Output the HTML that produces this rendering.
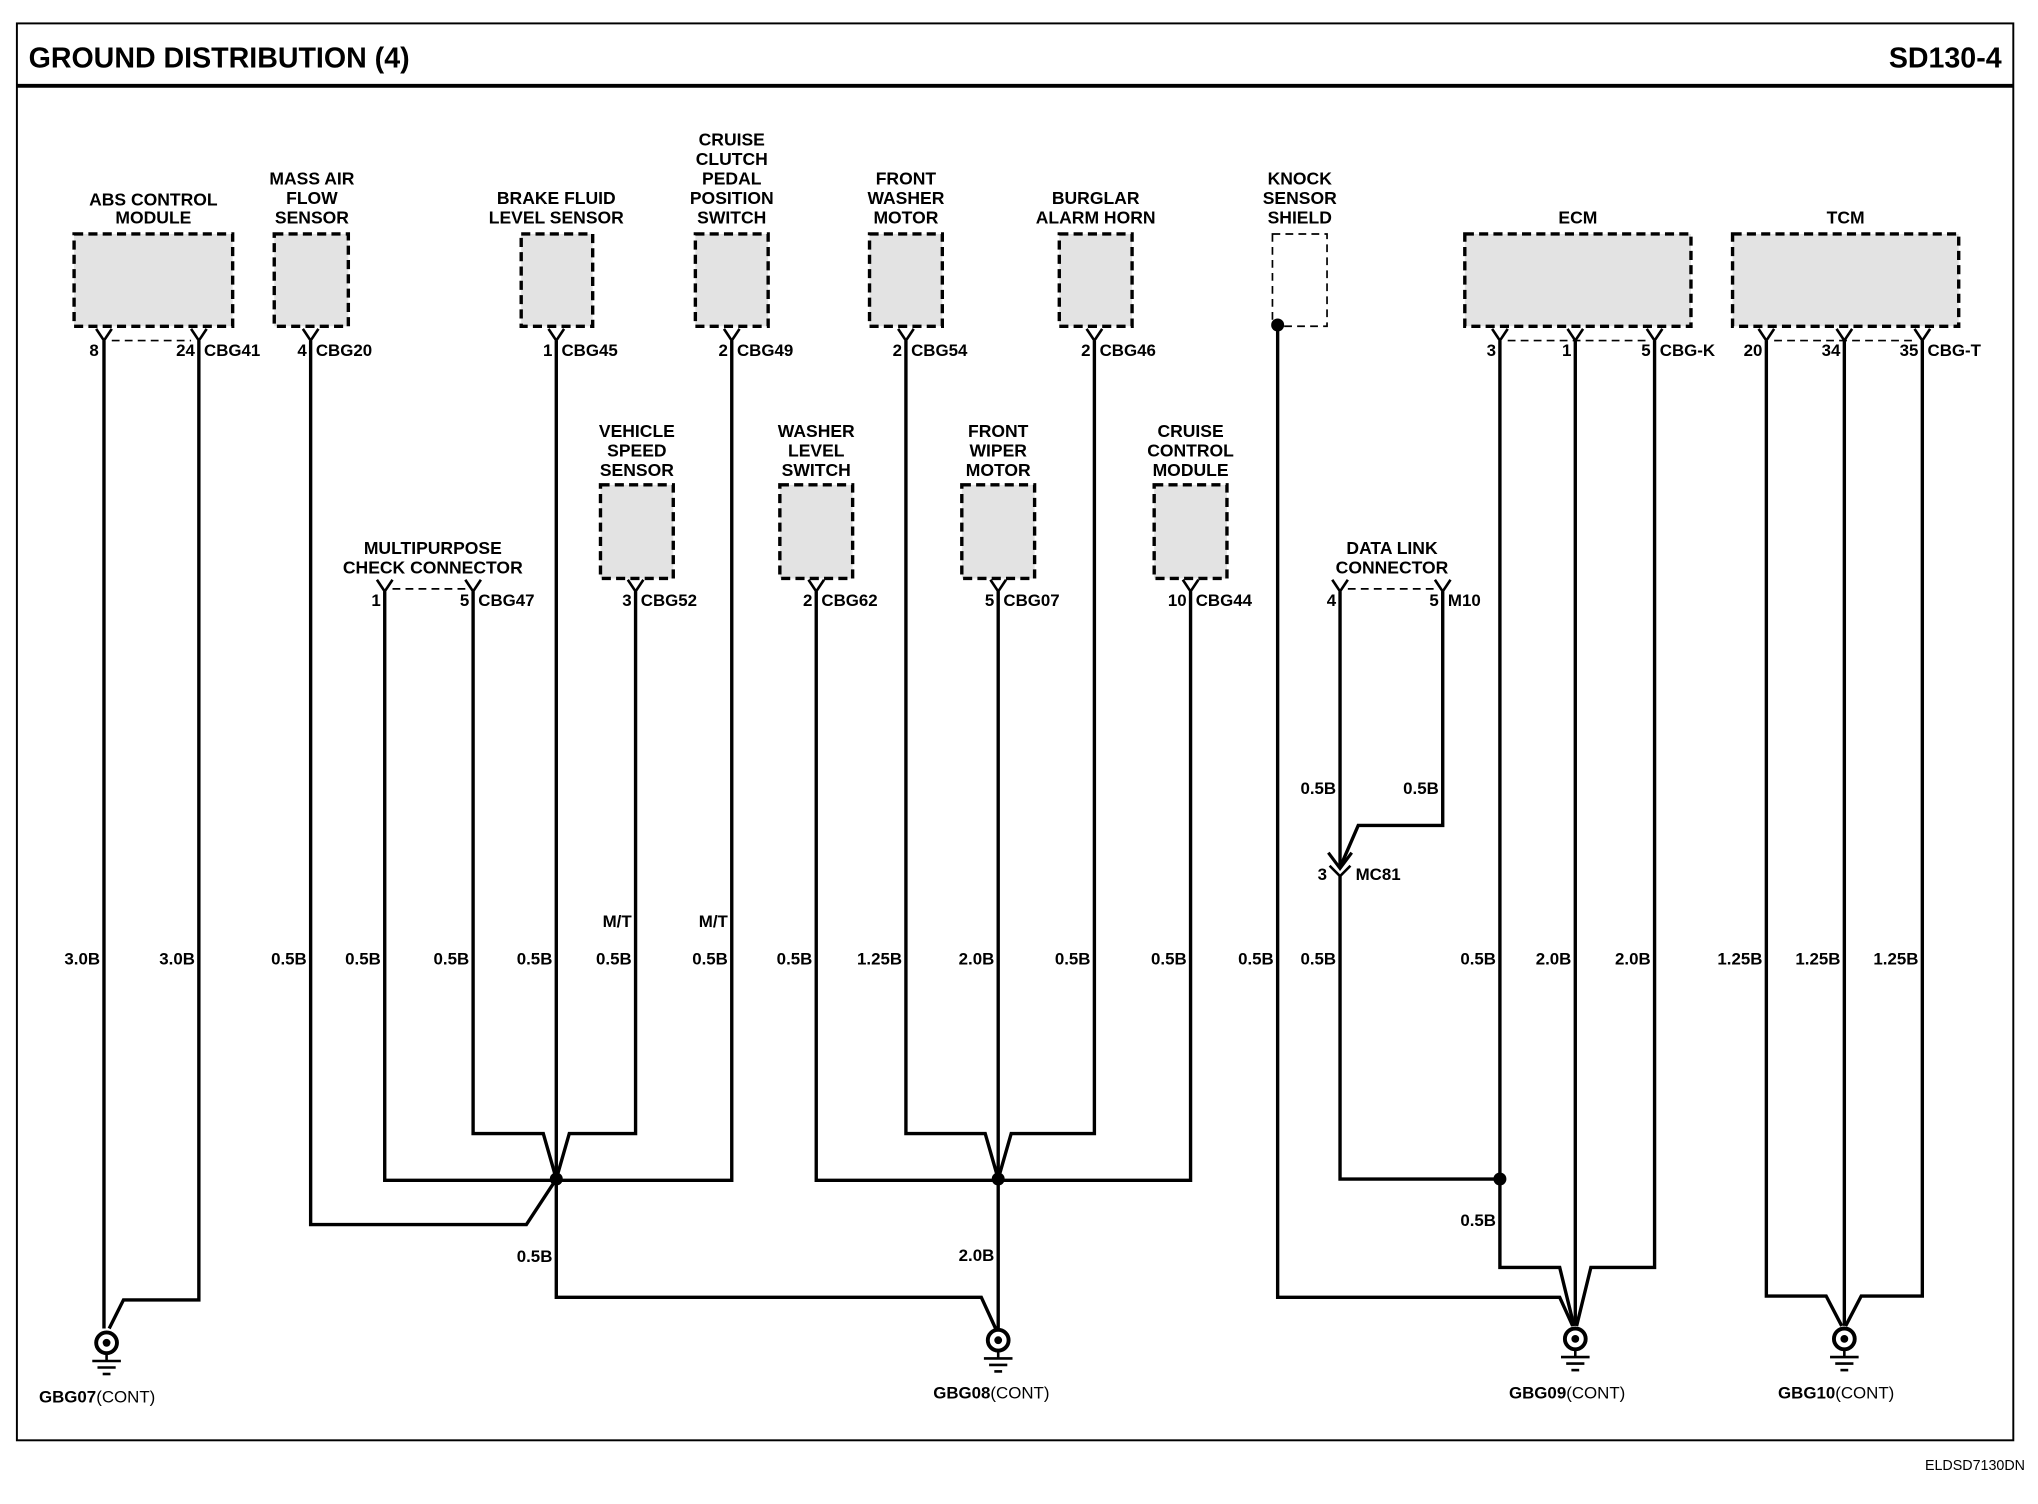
<!DOCTYPE html>
<html><head><meta charset="utf-8"><style>
html,body{margin:0;padding:0;background:#fff}
svg{display:block}
text{font-family:"Liberation Sans",Arial,sans-serif;font-weight:bold;fill:#000}
.l{font-size:13.5px;text-anchor:middle}
.p{font-size:13px}
.g{font-size:13px;font-weight:normal;text-anchor:end}
.w{fill:none;stroke:#000;stroke-width:2.6}
.b{fill:#e3e3e3;stroke:#000;stroke-width:2.6;stroke-dasharray:7,4}
.y{fill:none;stroke:#000;stroke-width:2}
</style></head><body>
<svg width="2038" height="1504" viewBox="0 0 1568 1157" preserveAspectRatio="none" xmlns="http://www.w3.org/2000/svg">
<rect x="13" y="18" width="1536" height="1090" fill="none" stroke="#000" stroke-width="1.5"/>
<line x1="13" y1="66" x2="1549" y2="66" stroke="#000" stroke-width="3"/>
<text x="22" y="52" style="font-size:22px">GROUND DISTRIBUTION (4)</text>
<text x="1540" y="52" style="font-size:22px;text-anchor:end">SD130-4</text>
<text x="1558" y="1131" style="font-size:11px;font-weight:normal;text-anchor:end">ELDSD7130DN</text>

<rect class="b" x="57" y="180" width="122" height="71"/>
<rect class="b" x="211" y="180" width="57" height="71"/>
<rect class="b" x="401" y="180" width="55" height="71"/>
<rect class="b" x="535" y="180" width="56" height="71"/>
<rect class="b" x="669" y="180" width="56" height="71"/>
<rect class="b" x="815" y="180" width="56" height="71"/>
<rect x="979" y="180" width="42" height="71" fill="#fff" stroke="#000" stroke-width="1.3" stroke-dasharray="6,4"/>
<rect class="b" x="1127" y="180" width="174" height="71"/>
<rect class="b" x="1333" y="180" width="174" height="71"/>
<rect class="b" x="462" y="373" width="56" height="72"/>
<rect class="b" x="600" y="373" width="56" height="72"/>
<rect class="b" x="740" y="373" width="56" height="72"/>
<rect class="b" x="888" y="373" width="56" height="72"/>

<text class="l" x="118" y="158">ABS CONTROL</text><text class="l" x="118" y="172">MODULE</text>
<text class="l" x="240" y="142">MASS AIR</text><text class="l" x="240" y="157">FLOW</text><text class="l" x="240" y="172">SENSOR</text>
<text class="l" x="428" y="157">BRAKE FLUID</text><text class="l" x="428" y="172">LEVEL SENSOR</text>
<text class="l" x="563" y="112">CRUISE</text><text class="l" x="563" y="127">CLUTCH</text><text class="l" x="563" y="142">PEDAL</text><text class="l" x="563" y="157">POSITION</text><text class="l" x="563" y="172">SWITCH</text>
<text class="l" x="697" y="142">FRONT</text><text class="l" x="697" y="157">WASHER</text><text class="l" x="697" y="172">MOTOR</text>
<text class="l" x="843" y="157">BURGLAR</text><text class="l" x="843" y="172">ALARM HORN</text>
<text class="l" x="1000" y="142">KNOCK</text><text class="l" x="1000" y="157">SENSOR</text><text class="l" x="1000" y="172">SHIELD</text>
<text class="l" x="1214" y="172">ECM</text>
<text class="l" x="1420" y="172">TCM</text>
<text class="l" x="490" y="336">VEHICLE</text><text class="l" x="490" y="351">SPEED</text><text class="l" x="490" y="366">SENSOR</text>
<text class="l" x="628" y="336">WASHER</text><text class="l" x="628" y="351">LEVEL</text><text class="l" x="628" y="366">SWITCH</text>
<text class="l" x="768" y="336">FRONT</text><text class="l" x="768" y="351">WIPER</text><text class="l" x="768" y="366">MOTOR</text>
<text class="l" x="916" y="336">CRUISE</text><text class="l" x="916" y="351">CONTROL</text><text class="l" x="916" y="366">MODULE</text>
<text class="l" x="333" y="426">MULTIPURPOSE</text><text class="l" x="333" y="441">CHECK CONNECTOR</text>
<text class="l" x="1071" y="426">DATA LINK</text><text class="l" x="1071" y="441">CONNECTOR</text>

<g stroke="#000" stroke-width="1.3" stroke-dasharray="6,4">
<line x1="86" y1="262" x2="147" y2="262"/>
<line x1="1160" y1="262" x2="1267" y2="262"/>
<line x1="1365" y1="262" x2="1473" y2="262"/>
<line x1="302" y1="453" x2="358" y2="453"/>
<line x1="1037" y1="453" x2="1104" y2="453"/>
</g>

<g class="y">
<path d="M74,253 L80,262 L86,253"/><path d="M147,253 L153,262 L159,253"/><path d="M233,253 L239,262 L245,253"/>
<path d="M422,253 L428,262 L434,253"/><path d="M557,253 L563,262 L569,253"/><path d="M691,253 L697,262 L703,253"/>
<path d="M836,253 L842,262 L848,253"/><path d="M1148,253 L1154,262 L1160,253"/><path d="M1206,253 L1212,262 L1218,253"/>
<path d="M1267,253 L1273,262 L1279,253"/><path d="M1353,253 L1359,262 L1365,253"/><path d="M1413,253 L1419,262 L1425,253"/>
<path d="M1473,253 L1479,262 L1485,253"/>
<path d="M290,446 L296,455 L302,446"/><path d="M358,446 L364,455 L370,446"/><path d="M483,446 L489,455 L495,446"/>
<path d="M622,446 L628,455 L634,446"/><path d="M762,446 L768,455 L774,446"/><path d="M910,446 L916,455 L922,446"/>
<path d="M1025,446 L1031,455 L1037,446"/><path d="M1104,446 L1110,455 L1116,446"/>
<path d="M1022,656 L1031,668 L1040,656" stroke-width="2.4"/><path d="M1023,666 L1031,674 L1039,666"/>
</g>

<g class="p">
<text x="76" y="274" text-anchor="end">8</text><text x="150" y="274" text-anchor="end">24</text><text x="157" y="274">CBG41</text>
<text x="236" y="274" text-anchor="end">4</text><text x="243" y="274">CBG20</text>
<text x="425" y="274" text-anchor="end">1</text><text x="432" y="274">CBG45</text>
<text x="560" y="274" text-anchor="end">2</text><text x="567" y="274">CBG49</text>
<text x="694" y="274" text-anchor="end">2</text><text x="701" y="274">CBG54</text>
<text x="839" y="274" text-anchor="end">2</text><text x="846" y="274">CBG46</text>
<text x="1151" y="274" text-anchor="end">3</text><text x="1209" y="274" text-anchor="end">1</text><text x="1270" y="274" text-anchor="end">5</text><text x="1277" y="274">CBG-K</text>
<text x="1356" y="274" text-anchor="end">20</text><text x="1416" y="274" text-anchor="end">34</text><text x="1476" y="274" text-anchor="end">35</text><text x="1483" y="274">CBG-T</text>
<text x="293" y="466" text-anchor="end">1</text><text x="361" y="466" text-anchor="end">5</text><text x="368" y="466">CBG47</text>
<text x="486" y="466" text-anchor="end">3</text><text x="493" y="466">CBG52</text>
<text x="625" y="466" text-anchor="end">2</text><text x="632" y="466">CBG62</text>
<text x="765" y="466" text-anchor="end">5</text><text x="772" y="466">CBG07</text>
<text x="913" y="466" text-anchor="end">10</text><text x="920" y="466">CBG44</text>
<text x="1028" y="466" text-anchor="end">4</text><text x="1107" y="466" text-anchor="end">5</text><text x="1114" y="466">M10</text>
<text x="1021" y="677" text-anchor="end">3</text><text x="1043" y="677">MC81</text>
</g>

<g class="w">
<path d="M80,262 V1022"/>
<path d="M153,262 V1000 H95 L84,1022"/>
<path d="M239,262 V942 H405 L428,907"/>
<path d="M296,455 V908 H428"/>
<path d="M364,455 V872 H418 L428,907"/>
<path d="M428,262 V998 H755 L766,1022"/>
<path d="M489,455 V872 H438 L428,907"/>
<path d="M563,262 V908 H428"/>
<path d="M628,455 V908 H916 V455"/>
<path d="M697,262 V872 H758 L768,907"/>
<path d="M768,455 V1022"/>
<path d="M842,262 V872 H778 L768,907"/>
<path d="M983,250 V998 H1200 L1210,1020"/>
<path d="M1031,455 V667"/>
<path d="M1110,455 V635 H1045 L1032,665"/>
<path d="M1031,674 V907 H1154"/>
<path d="M1154,262 V975 H1200 L1211,1020"/>
<path d="M1212,262 V1020"/>
<path d="M1273,262 V975 H1224 L1213,1020"/>
<path d="M1359,262 V997 H1405 L1417,1020"/>
<path d="M1419,262 V1020"/>
<path d="M1479,262 V997 H1432 L1420,1020"/>
</g>
<g fill="#000">
<circle cx="428" cy="907" r="5"/><circle cx="768" cy="907" r="5"/><circle cx="1154" cy="907" r="5"/><circle cx="983" cy="250" r="5"/>
</g>

<g>
<g transform="translate(82,1033)"><circle r="8" fill="#fff" stroke="#000" stroke-width="3"/><circle r="3"/><line x1="0" y1="8" x2="0" y2="14" stroke="#000" stroke-width="2"/><line x1="-11" y1="14" x2="11" y2="14" stroke="#000" stroke-width="2"/><line x1="-7" y1="19" x2="7" y2="19" stroke="#000" stroke-width="2"/><line x1="-3" y1="24" x2="3" y2="24" stroke="#000" stroke-width="2"/></g>
<g transform="translate(768,1031)"><circle r="8" fill="#fff" stroke="#000" stroke-width="3"/><circle r="3"/><line x1="0" y1="8" x2="0" y2="14" stroke="#000" stroke-width="2"/><line x1="-11" y1="14" x2="11" y2="14" stroke="#000" stroke-width="2"/><line x1="-7" y1="19" x2="7" y2="19" stroke="#000" stroke-width="2"/><line x1="-3" y1="24" x2="3" y2="24" stroke="#000" stroke-width="2"/></g>
<g transform="translate(1212,1030)"><circle r="8" fill="#fff" stroke="#000" stroke-width="3"/><circle r="3"/><line x1="0" y1="8" x2="0" y2="14" stroke="#000" stroke-width="2"/><line x1="-11" y1="14" x2="11" y2="14" stroke="#000" stroke-width="2"/><line x1="-7" y1="19" x2="7" y2="19" stroke="#000" stroke-width="2"/><line x1="-3" y1="24" x2="3" y2="24" stroke="#000" stroke-width="2"/></g>
<g transform="translate(1419,1030)"><circle r="8" fill="#fff" stroke="#000" stroke-width="3"/><circle r="3"/><line x1="0" y1="8" x2="0" y2="14" stroke="#000" stroke-width="2"/><line x1="-11" y1="14" x2="11" y2="14" stroke="#000" stroke-width="2"/><line x1="-7" y1="19" x2="7" y2="19" stroke="#000" stroke-width="2"/><line x1="-3" y1="24" x2="3" y2="24" stroke="#000" stroke-width="2"/></g>
</g>
<text x="30" y="1079" style="font-size:13px">GBG07<tspan font-weight="normal">(CONT)</tspan></text>
<text x="718" y="1076" style="font-size:13px">GBG08<tspan font-weight="normal">(CONT)</tspan></text>
<text x="1161" y="1076" style="font-size:13px">GBG09<tspan font-weight="normal">(CONT)</tspan></text>
<text x="1368" y="1076" style="font-size:13px">GBG10<tspan font-weight="normal">(CONT)</tspan></text>

<g class="g">
<text x="77" y="742">3.0B</text><text x="150" y="742">3.0B</text><text x="236" y="742">0.5B</text>
<text x="293" y="742">0.5B</text><text x="361" y="742">0.5B</text><text x="425" y="742">0.5B</text>
<text x="486" y="742">0.5B</text><text x="560" y="742">0.5B</text><text x="625" y="742">0.5B</text>
<text x="694" y="742">1.25B</text><text x="765" y="742">2.0B</text><text x="839" y="742">0.5B</text>
<text x="913" y="742">0.5B</text><text x="980" y="742">0.5B</text><text x="1028" y="742">0.5B</text>
<text x="1151" y="742">0.5B</text><text x="1209" y="742">2.0B</text><text x="1270" y="742">2.0B</text>
<text x="1356" y="742">1.25B</text><text x="1416" y="742">1.25B</text><text x="1476" y="742">1.25B</text>
<text x="486" y="713">M/T</text><text x="560" y="713">M/T</text>
<text x="1028" y="611">0.5B</text><text x="1107" y="611">0.5B</text>
<text x="425" y="971">0.5B</text><text x="765" y="970">2.0B</text><text x="1151" y="943">0.5B</text>
</g>
</svg>
</body></html>
